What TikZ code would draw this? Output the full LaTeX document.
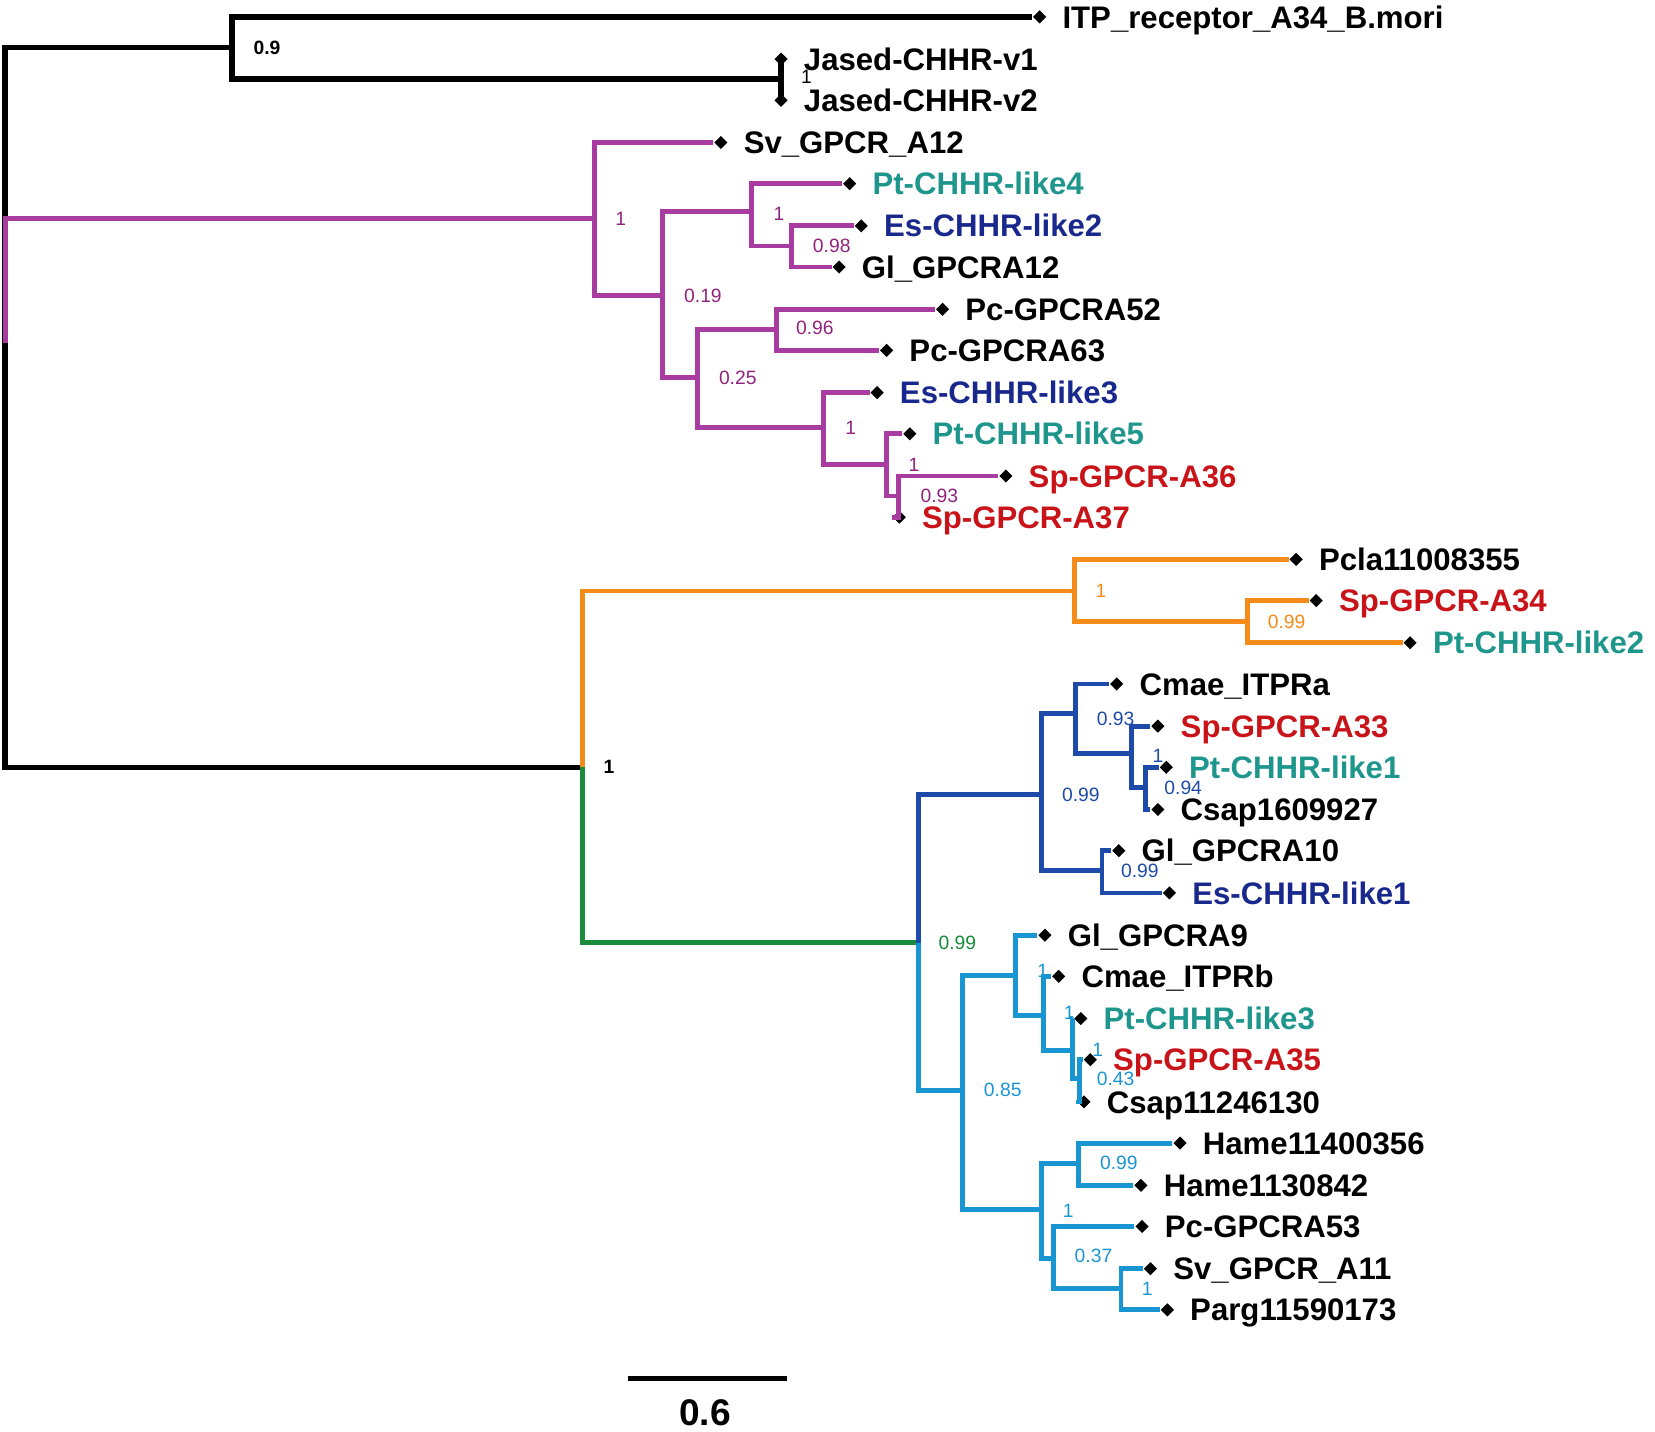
\documentclass[tikz,border=0pt]{standalone}
\usepackage{fontspec}
\setmainfont{Liberation Sans}
\usetikzlibrary{shapes,positioning}
\definecolor{magc}{RGB}{168,60,160}
\definecolor{magt}{RGB}{145,35,125}
\definecolor{orac}{RGB}{245,140,25}
\definecolor{grnc}{RGB}{25,140,60}
\definecolor{bluc}{RGB}{30,75,170}
\definecolor{cyac}{RGB}{25,150,210}
\definecolor{ptcol}{RGB}{30,150,140}
\definecolor{escol}{RGB}{25,40,140}
\definecolor{spcol}{RGB}{200,20,25}
\tikzset{
  branch/.style = {line width=1.3pt, line join=miter},
  blk/.style    = {branch, black, line width=1.5pt},
  mag/.style    = {branch, magc},
  ora/.style    = {branch, orac},
  grn/.style    = {branch, grnc},
  blu/.style    = {branch, bluc},
  cya/.style    = {branch, cyac},
  tip/.style    = {diamond, fill=black, inner sep=0pt, minimum size=1.3mm},
  leaf/.style   = {inner sep=0.5pt, text height=6pt, text depth=0pt,
                   font=\fontsize{8.4}{10}\selectfont\bfseries},
  sup/.style    = {inner sep=0pt, font=\fontsize{5.2}{6}\selectfont},
  pt/.style     = {leaf, text=ptcol},
  es/.style     = {leaf, text=escol},
  sp/.style     = {leaf, text=spcol}
}

\begin{document}
\begin{tikzpicture}[x=0.1mm, y=-0.1mm, node distance=1.2mm]
  \useasboundingbox (0,0) rectangle (1568,1356);

  % internal nodes
  \coordinate (root) at (5,325);
  \coordinate (a)  at (220,45);
  \coordinate (j)  at (740,75);
  \coordinate (m1) at (563,207);
  \coordinate (m2) at (628,280);
  \coordinate (m3) at (712,200);
  \coordinate (m4) at (750,233);
  \coordinate (m5) at (661,358);
  \coordinate (m6) at (736,312);
  \coordinate (m7) at (780,405);
  \coordinate (m8) at (840,440);
  \coordinate (m9) at (851,470);
  \coordinate (n)  at (552,727);
  \coordinate (o)  at (1018,560);
  \coordinate (o2) at (1182,589);
  \coordinate (g)  at (870,893);
  \coordinate (b)  at (987,753);
  \coordinate (b2) at (1019,676);
  \coordinate (b3) at (1072,714);
  \coordinate (b4) at (1085,746);
  \coordinate (b5) at (1044,825);
  \coordinate (c)  at (912,1033);
  \coordinate (c2) at (962,924);
  \coordinate (c3) at (989,962);
  \coordinate (c4) at (1016,995);
  \coordinate (c5) at (1023,1022);
  \coordinate (c6) at (987,1146);
  \coordinate (c7) at (1022,1102);
  \coordinate (c8) at (998,1192);
  \coordinate (c9) at (1062,1221);

  % tips
  \node[tip] (itp)     at (985,16)    {};
  \node[tip] (jv1)     at (740,56)    {};
  \node[tip] (jv2)     at (740,95)    {};
  \node[tip] (sva12)   at (683,135)   {};
  \node[tip] (pt4)     at (805,174)   {};
  \node[tip] (es2)     at (816,214)   {};
  \node[tip] (gl12)    at (795,253)   {};
  \node[tip] (pc52)    at (893,293)   {};
  \node[tip] (pc63)    at (840,332)   {};
  \node[tip] (es3)     at (831,372)   {};
  \node[tip] (pt5)     at (862,411)   {};
  \node[tip] (sp36)    at (953,451)   {};
  \node[tip] (sp37)    at (852,490)   {};
  \node[tip] (pcla)    at (1228,530)  {};
  \node[tip] (sp34)    at (1247,569)  {};
  \node[tip] (pt2)     at (1336,609)  {};
  \node[tip] (cmaea)   at (1058,648)  {};
  \node[tip] (sp33)    at (1097,688)  {};
  \node[tip] (pt1)     at (1105,727)  {};
  \node[tip] (csap16)  at (1097,767)  {};
  \node[tip] (gl10)    at (1060,806)  {};
  \node[tip] (es1)     at (1108,846)  {};
  \node[tip] (gl9)     at (990,886)   {};
  \node[tip] (cmaeb)   at (1003,925)  {};
  \node[tip] (pt3)     at (1024,965)  {};
  \node[tip] (sp35)    at (1033,1004) {};
  \node[tip] (csap11)  at (1027,1044) {};
  \node[tip] (hame114) at (1118,1083) {};
  \node[tip] (hame113) at (1081,1123) {};
  \node[tip] (pc53)    at (1082,1162) {};
  \node[tip] (sva11)   at (1090,1202) {};
  \node[tip] (parg)    at (1106,1241) {};

  % tip labels
  \node[leaf, right=of itp]     (l-itp)     {ITP\_receptor\_A34\_B.mori};
  \node[leaf, right=of jv1]     (l-jv1)     {Jased-CHHR-v1};
  \node[leaf, right=of jv2]     (l-jv2)     {Jased-CHHR-v2};
  \node[leaf, right=of sva12]   (l-sva12)   {Sv\_GPCR\_A12};
  \node[pt,   right=of pt4]     (l-pt4)     {Pt-CHHR-like4};
  \node[es,   right=of es2]     (l-es2)     {Es-CHHR-like2};
  \node[leaf, right=of gl12]    (l-gl12)    {Gl\_GPCRA12};
  \node[leaf, right=of pc52]    (l-pc52)    {Pc-GPCRA52};
  \node[leaf, right=of pc63]    (l-pc63)    {Pc-GPCRA63};
  \node[es,   right=of es3]     (l-es3)     {Es-CHHR-like3};
  \node[pt,   right=of pt5]     (l-pt5)     {Pt-CHHR-like5};
  \node[sp,   right=of sp36]    (l-sp36)    {Sp-GPCR-A36};
  \node[sp,   right=of sp37]    (l-sp37)    {Sp-GPCR-A37};
  \node[leaf, right=of pcla]    (l-pcla)    {Pcla11008355};
  \node[sp,   right=of sp34]    (l-sp34)    {Sp-GPCR-A34};
  \node[pt,   right=of pt2]     (l-pt2)     {Pt-CHHR-like2};
  \node[leaf, right=of cmaea]   (l-cmaea)   {Cmae\_ITPRa};
  \node[sp,   right=of sp33]    (l-sp33)    {Sp-GPCR-A33};
  \node[pt,   right=of pt1]     (l-pt1)     {Pt-CHHR-like1};
  \node[leaf, right=of csap16]  (l-csap16)  {Csap1609927};
  \node[leaf, right=of gl10]    (l-gl10)    {Gl\_GPCRA10};
  \node[es,   right=of es1]     (l-es1)     {Es-CHHR-like1};
  \node[leaf, right=of gl9]     (l-gl9)     {Gl\_GPCRA9};
  \node[leaf, right=of cmaeb]   (l-cmaeb)   {Cmae\_ITPRb};
  \node[pt,   right=of pt3]     (l-pt3)     {Pt-CHHR-like3};
  \node[sp,   right=of sp35]    (l-sp35)    {Sp-GPCR-A35};
  \node[leaf, right=of csap11]  (l-csap11)  {Csap11246130};
  \node[leaf, right=of hame114] (l-hame114) {Hame11400356};
  \node[leaf, right=of hame113] (l-hame113) {Hame1130842};
  \node[leaf, right=of pc53]    (l-pc53)    {Pc-GPCRA53};
  \node[leaf, right=of sva11]   (l-sva11)   {Sv\_GPCR\_A11};
  \node[leaf, right=of parg]    (l-parg)    {Parg11590173};

  % branches
  \foreach \p/\q in {root/a, root/n, a/itp, a/j, j/jv1, j/jv2}
    \draw[blk] (\p) |- (\q);
  \foreach \p/\q in {root/m1, m1/sva12, m1/m2, m2/m3, m2/m5, m3/pt4, m3/m4,
                     m4/es2, m4/gl12, m5/m6, m5/m7, m6/pc52, m6/pc63,
                     m7/es3, m7/m8, m8/pt5, m8/m9, m9/sp36, m9/sp37}
    \draw[mag] (\p) |- (\q);
  \foreach \p/\q in {n/o, o/pcla, o/o2, o2/sp34, o2/pt2}
    \draw[ora] (\p) |- (\q);
  \draw[grn] (n) |- (g);
  \foreach \p/\q in {g/b, b/b2, b/b5, b2/cmaea, b2/b3, b3/sp33, b3/b4,
                     b4/pt1, b4/csap16, b5/gl10, b5/es1}
    \draw[blu] (\p) |- (\q);
  \foreach \p/\q in {g/c, c/c2, c/c6, c2/gl9, c2/c3, c3/cmaeb, c3/c4,
                     c4/pt3, c4/c5, c5/sp35, c5/csap11, c6/c7, c6/c8,
                     c7/hame114, c7/hame113, c8/pc53, c8/c9, c9/sva11, c9/parg}
    \draw[cya] (\p) |- (\q);

  % support values
  \node[sup, font=\fontsize{5.2}{6}\selectfont\bfseries] (s-a) at (253,45) {0.9};
  \node[sup] (s-j)  at (764,73)  {1};
  \node[sup, text=magt] (s-m1) at (588,207) {1};
  \node[sup, text=magt] (s-m3) at (738,203) {1};
  \node[sup, text=magt] (s-m4) at (788,233) {0.98};
  \node[sup, text=magt] (s-m2) at (666,280) {0.19};
  \node[sup, text=magt] (s-m6) at (772,311) {0.96};
  \node[sup, text=magt] (s-m5) at (699,358) {0.25};
  \node[sup, text=magt] (s-m7) at (806,405) {1};
  \node[sup, text=magt] (s-m8) at (866,440) {1};
  \node[sup, text=magt] (s-m9) at (890,470) {0.93};
  \node[sup, font=\fontsize{5.2}{6}\selectfont\bfseries] (s-n) at (577,727) {1};
  \node[sup, text=orac] (s-o)  at (1043,560) {1};
  \node[sup, text=orac] (s-o2) at (1219,589) {0.99};
  \node[sup, text=grnc] (s-g)  at (907,893)  {0.99};
  \node[sup, text=bluc] (s-b)  at (1024,753) {0.99};
  \node[sup, text=bluc] (s-b2) at (1057,681) {0.93};
  \node[sup, text=bluc] (s-b3) at (1097,716) {1};
  \node[sup, text=bluc] (s-b4) at (1121,746) {0.94};
  \node[sup, text=bluc] (s-b5) at (1080,825) {0.99};
  \node[sup, text=cyac] (s-c)  at (950,1033) {0.85};
  \node[sup, text=cyac] (s-c2) at (988,920)  {1};
  \node[sup, text=cyac] (s-c3) at (1013,960) {1};
  \node[sup, text=cyac] (s-c4) at (1040,995) {1};
  \node[sup, text=cyac] (s-c5) at (1057,1022) {0.43};
  \node[sup, text=cyac] (s-c6) at (1012,1147) {1};
  \node[sup, text=cyac] (s-c7) at (1060,1102) {0.99};
  \node[sup, text=cyac] (s-c8) at (1036,1190) {0.37};
  \node[sup, text=cyac] (s-c9) at (1087,1221) {1};

  % scale bar
  \coordinate (sb1) at (595,1306);
  \coordinate (sb2) at (746,1306);
  \draw[blk] (sb1) -- (sb2);
  \node[font=\fontsize{10}{12}\selectfont\bfseries] (sbl) at (668,1338) {0.6};
\end{tikzpicture}
\end{document}
